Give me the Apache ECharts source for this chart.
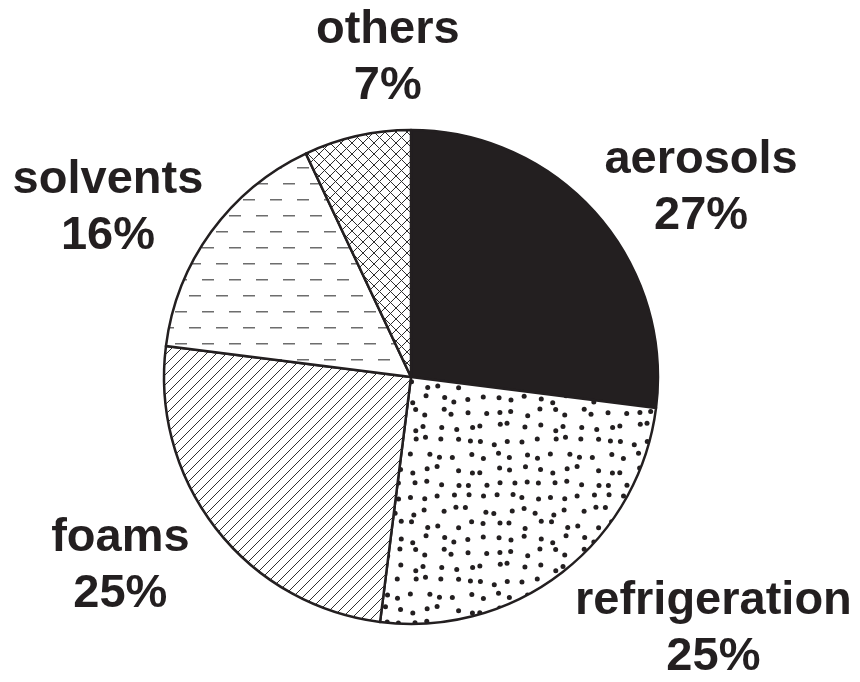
<!DOCTYPE html>
<html>
<head>
<meta charset="utf-8">
<script src="https://cdn.jsdelivr.net/npm/echarts@6/dist/echarts.min.js"></script>
<style>
  html, body { margin: 0; padding: 0; background: #fff; }
  #chart { width: 860px; height: 682px; }
</style>
</head>
<body>
<div id="chart"></div>
<script>
const categories = ["aerosols", "refrigeration", "foams", "solvents", "others"];
const shares = [27, 25, 25, 16, 7];

const ink = "#231f20";
const pieCenter = [411, 377];
const pieRadius = 247;
const labelRadius = 340;
// hand nudges so the labels sit where the printed ones do
const labelNudge = [[35, 36], [94, -17], [-22, -19], [-28, 31], [51, 13]];

// pattern tiles for the slices
const makeTile = (w, h, draw) => {
    const c = document.createElement("canvas");
    c.width = w;
    c.height = h;
    const ctx = c.getContext("2d");
    ctx.fillStyle = "#fff";
    ctx.fillRect(0, 0, w, h);
    draw(ctx);
    return { image: c, repeat: "repeat" };
};

const dotsTile = makeTile(140, 140, (ctx) => {
    // jittered grid, fixed seed so it looks the same every time
    let seed = 11;
    const rnd = () => {
        seed = (seed * 16807) % 2147483647;
        return seed / 2147483647;
    };
    ctx.fillStyle = ink;
    for (let gx = 0; gx < 10; gx++) {
        for (let gy = 0; gy < 10; gy++) {
            const x = gx * 14 + 3 + rnd() * 8;
            const y = gy * 14 + 3 + rnd() * 8;
            ctx.beginPath();
            ctx.arc(x, y, 2.5, 0, Math.PI * 2);
            ctx.fill();
        }
    }
});

const hatchTile = makeTile(10, 10, (ctx) => {
    ctx.strokeStyle = "#2e2e2e";
    ctx.lineWidth = 1;
    ctx.beginPath();
    ctx.moveTo(-1, 11);
    ctx.lineTo(11, -1);
    ctx.moveTo(-6, 6);
    ctx.lineTo(6, -6);
    ctx.moveTo(4, 16);
    ctx.lineTo(16, 4);
    ctx.stroke();
});

const dashTile = makeTile(27, 32, (ctx) => {
    ctx.fillStyle = "#6d6d6d";
    ctx.fillRect(0, 7, 12, 1.5);
    ctx.fillRect(13, 23, 12, 1.5);
});

const crossTile = makeTile(11, 11, (ctx) => {
    ctx.strokeStyle = "#2e2e2e";
    ctx.lineWidth = 1;
    ctx.beginPath();
    ctx.moveTo(0, 0);
    ctx.lineTo(11, 11);
    ctx.moveTo(0, 11);
    ctx.lineTo(11, 0);
    ctx.stroke();
});

const fills = [ink, dotsTile, hatchTile, dashTile, crossTile];

// mid angle of every slice, clockwise from 12 o'clock
const total = shares.reduce((a, b) => a + b, 0);
let run = 0;
const midAngles = shares.map((v) => {
    const mid = ((run + v / 2) / total) * Math.PI * 2;
    run += v;
    return mid;
});

const chart = echarts.init(document.getElementById("chart"), null, { renderer: "canvas" });

const seriesData = categories.map((name, i) => ({
    name: name,
    value: shares[i],
    itemStyle: { color: fills[i] },
}));

chart.setOption({
    animation: false,
    series: [
        {
            type: "pie",
            center: pieCenter,
            radius: pieRadius,
            startAngle: 90,
            clockwise: true,
            data: seriesData,
            itemStyle: {
                borderColor: ink,
                borderWidth: 2.5,
            },
            label: {
                show: true,
                position: "outside",
                formatter: "{b}\n{c}%",
                color: ink,
                fontFamily: "Liberation Sans, Arial, sans-serif",
                fontWeight: "bold",
                fontSize: 47,
                lineHeight: 56,
                overflow: "none",
            },
            labelLine: { show: false, length: 25, length2: 0 },
            labelLayout: (params) => {
                const i = params.dataIndex;
                const a = midAngles[i];
                return {
                    x: pieCenter[0] + labelRadius * Math.sin(a) + labelNudge[i][0],
                    y: pieCenter[1] - labelRadius * Math.cos(a) + labelNudge[i][1],
                    align: "center",
                    verticalAlign: "middle",
                };
            },
            emphasis: { disabled: true },
        },
    ],
});
</script>
</body>
</html>
